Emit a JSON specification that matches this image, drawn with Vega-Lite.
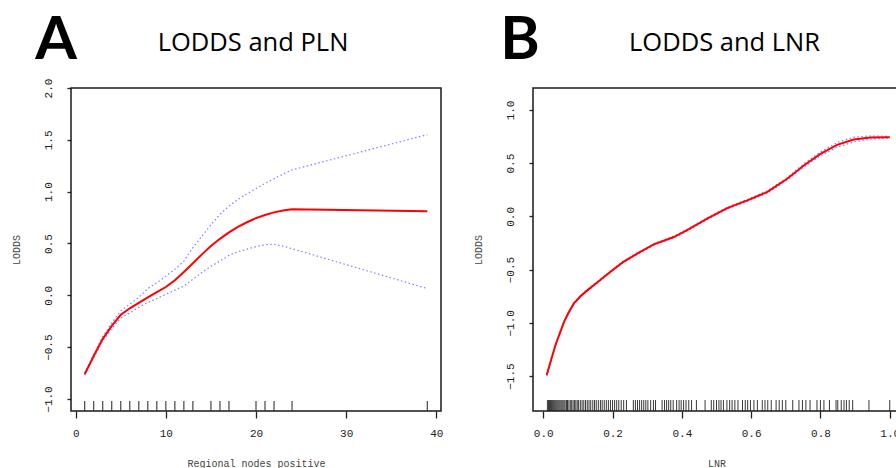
{
  "$schema": "https://vega.github.io/schema/vega-lite/v6.json",
  "background": "white",
  "padding": {"left": 10, "top": 10, "right": 0, "bottom": 0},
  "spacing": 28,
  "config": {
    "view": {"stroke": "#1a1a1a", "strokeWidth": 1.5},
    "axis": {
      "domain": false, "grid": false,
      "tickColor": "#222", "tickSize": 7, "tickWidth": 1.3,
      "labelFont": "Liberation Mono", "labelFontSize": 11, "labelColor": "#222",
      "titleFont": "Liberation Mono", "titleFontSize": 10, "titleFontWeight": "normal", "titleColor": "#444"
    },
    "axisY": {"labelAngle": -90, "labelPadding": 14, "titlePadding": 21, "tickSize": 4},
    "axisX": {"labelPadding": 9, "titlePadding": 20},
    "title": {"font": "Open Sans", "color": "#000"}
  },
  "datasets": {
    "fitA": [
      {"x": 1, "fit": -0.76, "lower": -0.77, "upper": -0.75},
      {"x": 2, "fit": -0.585, "lower": -0.6, "upper": -0.57},
      {"x": 3, "fit": -0.42, "lower": -0.44, "upper": -0.4},
      {"x": 4, "fit": -0.295, "lower": -0.32, "upper": -0.265},
      {"x": 5, "fit": -0.188, "lower": -0.22, "upper": -0.15},
      {"x": 6, "fit": -0.125, "lower": -0.17, "upper": -0.085},
      {"x": 7, "fit": -0.072, "lower": -0.115, "upper": -0.02},
      {"x": 8, "fit": -0.02, "lower": -0.07, "upper": 0.065},
      {"x": 9, "fit": 0.03, "lower": -0.03, "upper": 0.12},
      {"x": 10, "fit": 0.08, "lower": 0.01, "upper": 0.185},
      {"x": 11, "fit": 0.145, "lower": 0.05, "upper": 0.25},
      {"x": 12, "fit": 0.225, "lower": 0.09, "upper": 0.33},
      {"x": 13, "fit": 0.31, "lower": 0.155, "upper": 0.46},
      {"x": 14, "fit": 0.395, "lower": 0.22, "upper": 0.57},
      {"x": 15, "fit": 0.475, "lower": 0.28, "upper": 0.68},
      {"x": 16, "fit": 0.545, "lower": 0.33, "upper": 0.78},
      {"x": 17, "fit": 0.607, "lower": 0.385, "upper": 0.86},
      {"x": 18, "fit": 0.66, "lower": 0.42, "upper": 0.925},
      {"x": 19, "fit": 0.705, "lower": 0.445, "upper": 0.98},
      {"x": 20, "fit": 0.745, "lower": 0.47, "upper": 1.03},
      {"x": 21, "fit": 0.775, "lower": 0.487, "upper": 1.08},
      {"x": 22, "fit": 0.8, "lower": 0.493, "upper": 1.125},
      {"x": 23, "fit": 0.818, "lower": 0.475, "upper": 1.17},
      {"x": 24, "fit": 0.83, "lower": 0.45, "upper": 1.21},
      {"x": 39, "fit": 0.81, "lower": 0.065, "upper": 1.55}
    ],
    "rugA": [
      {"x": 1}, {"x": 2}, {"x": 3}, {"x": 4}, {"x": 5}, {"x": 6}, {"x": 7}, {"x": 8}, {"x": 9}, {"x": 10},
      {"x": 11}, {"x": 12}, {"x": 13}, {"x": 15}, {"x": 16}, {"x": 17}, {"x": 20}, {"x": 21}, {"x": 22}, {"x": 24}, {"x": 39}
    ],
    "fitB": [
      {"x": 0.01, "fit": -1.49, "lower": -1.5, "upper": -1.48},
      {"x": 0.035, "fit": -1.21, "lower": -1.218, "upper": -1.202},
      {"x": 0.06, "fit": -0.99, "lower": -0.998, "upper": -0.982},
      {"x": 0.074, "fit": -0.898, "lower": -0.905, "upper": -0.891},
      {"x": 0.088, "fit": -0.82, "lower": -0.827, "upper": -0.813},
      {"x": 0.108, "fit": -0.748, "lower": -0.755, "upper": -0.741},
      {"x": 0.127, "fit": -0.695, "lower": -0.702, "upper": -0.688},
      {"x": 0.16, "fit": -0.61, "lower": -0.617, "upper": -0.603},
      {"x": 0.194, "fit": -0.52, "lower": -0.527, "upper": -0.513},
      {"x": 0.23, "fit": -0.43, "lower": -0.437, "upper": -0.423},
      {"x": 0.271, "fit": -0.35, "lower": -0.357, "upper": -0.343},
      {"x": 0.319, "fit": -0.263, "lower": -0.27, "upper": -0.256},
      {"x": 0.377, "fit": -0.194, "lower": -0.201, "upper": -0.187},
      {"x": 0.415, "fit": -0.13, "lower": -0.137, "upper": -0.123},
      {"x": 0.473, "fit": -0.022, "lower": -0.03, "upper": -0.014},
      {"x": 0.531, "fit": 0.078, "lower": 0.07, "upper": 0.086},
      {"x": 0.589, "fit": 0.15, "lower": 0.141, "upper": 0.159},
      {"x": 0.646, "fit": 0.228, "lower": 0.217, "upper": 0.239},
      {"x": 0.704, "fit": 0.353, "lower": 0.341, "upper": 0.365},
      {"x": 0.752, "fit": 0.478, "lower": 0.463, "upper": 0.493},
      {"x": 0.8, "fit": 0.587, "lower": 0.569, "upper": 0.605},
      {"x": 0.848, "fit": 0.672, "lower": 0.65, "upper": 0.694},
      {"x": 0.896, "fit": 0.722, "lower": 0.7, "upper": 0.744},
      {"x": 0.944, "fit": 0.741, "lower": 0.726, "upper": 0.756},
      {"x": 1.0, "fit": 0.744, "lower": 0.737, "upper": 0.751}
    ],
    "rugB": [
      {"x": 0.012}, {"x": 0.015}, {"x": 0.018}, {"x": 0.021}, {"x": 0.024}, {"x": 0.027}, {"x": 0.03}, {"x": 0.033}, {"x": 0.036}, {"x": 0.039},
      {"x": 0.042}, {"x": 0.045}, {"x": 0.048}, {"x": 0.051}, {"x": 0.054}, {"x": 0.057}, {"x": 0.06}, {"x": 0.063}, {"x": 0.067}, {"x": 0.07},
      {"x": 0.074}, {"x": 0.078}, {"x": 0.082}, {"x": 0.086}, {"x": 0.09}, {"x": 0.094}, {"x": 0.098}, {"x": 0.102}, {"x": 0.107}, {"x": 0.112},
      {"x": 0.117}, {"x": 0.122}, {"x": 0.127}, {"x": 0.132}, {"x": 0.137}, {"x": 0.143}, {"x": 0.148}, {"x": 0.153}, {"x": 0.159}, {"x": 0.165},
      {"x": 0.17}, {"x": 0.176}, {"x": 0.182}, {"x": 0.188}, {"x": 0.194}, {"x": 0.2}, {"x": 0.206}, {"x": 0.212}, {"x": 0.218}, {"x": 0.225},
      {"x": 0.232}, {"x": 0.24}, {"x": 0.26}, {"x": 0.266}, {"x": 0.272}, {"x": 0.278}, {"x": 0.284}, {"x": 0.29}, {"x": 0.296}, {"x": 0.302},
      {"x": 0.31}, {"x": 0.318}, {"x": 0.324}, {"x": 0.343}, {"x": 0.35}, {"x": 0.356}, {"x": 0.362}, {"x": 0.368}, {"x": 0.375}, {"x": 0.385},
      {"x": 0.392}, {"x": 0.398}, {"x": 0.405}, {"x": 0.412}, {"x": 0.42}, {"x": 0.428}, {"x": 0.442}, {"x": 0.467}, {"x": 0.485}, {"x": 0.492},
      {"x": 0.5}, {"x": 0.507}, {"x": 0.513}, {"x": 0.52}, {"x": 0.53}, {"x": 0.538}, {"x": 0.545}, {"x": 0.553}, {"x": 0.562}, {"x": 0.575},
      {"x": 0.583}, {"x": 0.59}, {"x": 0.598}, {"x": 0.608}, {"x": 0.618}, {"x": 0.632}, {"x": 0.64}, {"x": 0.648}, {"x": 0.658}, {"x": 0.672},
      {"x": 0.681}, {"x": 0.69}, {"x": 0.7}, {"x": 0.72}, {"x": 0.738}, {"x": 0.748}, {"x": 0.758}, {"x": 0.77}, {"x": 0.79}, {"x": 0.8},
      {"x": 0.81}, {"x": 0.826}, {"x": 0.845}, {"x": 0.85}, {"x": 0.86}, {"x": 0.868}, {"x": 0.875}, {"x": 0.883}, {"x": 0.893}, {"x": 0.94},
      {"x": 1.0}
    ]
  },
  "hconcat": [
    {
      "title": {"text": "A", "anchor": "start", "fontSize": 60, "fontWeight": "bold", "font": "Lato", "dx": 25, "offset": -42},
      "vconcat": [
        {
          "title": {"text": "LODDS and PLN", "fontSize": 25.5, "fontWeight": "normal", "anchor": "middle", "offset": 22, "dx": -3},
          "width": 370,
          "height": 323,
          "layer": [
            {
              "data": {"name": "rugA"},
              "mark": {"type": "rule", "color": "#333", "strokeWidth": 1.1},
              "encoding": {
                "x": {"field": "x", "type": "quantitative", "scale": {"domain": [-0.52, 40.52], "nice": false, "zero": false}, "axis": {"title": "Regional nodes positive", "values": [0, 10, 20, 30, 40]}},
                "y": {"datum": -1.116, "type": "quantitative", "scale": {"domain": [-1.116, 2.0], "nice": false, "zero": false}, "axis": {"title": "LODDS", "values": [-1, -0.5, 0, 0.5, 1, 1.5, 2], "format": ".1f"}},
                "y2": {"datum": -1.02}
              }
            },
            {
              "data": {"name": "fitA"},
              "mark": {"type": "line", "color": "#7f7fff", "strokeWidth": 1.2, "strokeDash": [1.5, 2.5]},
              "encoding": {
                "x": {"field": "x", "type": "quantitative", "axis": {"title": "Regional nodes positive", "values": [0, 10, 20, 30, 40]}},
                "y": {"field": "upper", "type": "quantitative", "axis": {"title": "LODDS", "values": [-1, -0.5, 0, 0.5, 1, 1.5, 2], "format": ".1f"}}
              }
            },
            {
              "data": {"name": "fitA"},
              "mark": {"type": "line", "color": "#7f7fff", "strokeWidth": 1.2, "strokeDash": [1.5, 2.5]},
              "encoding": {
                "x": {"field": "x", "type": "quantitative", "axis": {"title": "Regional nodes positive", "values": [0, 10, 20, 30, 40]}},
                "y": {"field": "lower", "type": "quantitative", "axis": {"title": "LODDS", "values": [-1, -0.5, 0, 0.5, 1, 1.5, 2], "format": ".1f"}}
              }
            },
            {
              "data": {"name": "fitA"},
              "mark": {"type": "line", "color": "#ff0000", "strokeWidth": 2},
              "encoding": {
                "x": {"field": "x", "type": "quantitative", "axis": {"title": "Regional nodes positive", "values": [0, 10, 20, 30, 40]}},
                "y": {"field": "fit", "type": "quantitative", "axis": {"title": "LODDS", "values": [-1, -0.5, 0, 0.5, 1, 1.5, 2], "format": ".1f"}}
              }
            }
          ]
        }
      ]
    },
    {
      "title": {"text": "B", "anchor": "start", "fontSize": 60, "fontWeight": "bold", "font": "Lato", "dx": 28, "offset": -42},
      "vconcat": [
        {
          "title": {"text": "LODDS and LNR", "fontSize": 25.5, "fontWeight": "normal", "anchor": "middle", "offset": 32, "dx": 8},
          "width": 367,
          "height": 323,
          "layer": [
            {
              "data": {"name": "rugB"},
              "mark": {"type": "rule", "color": "#222", "strokeWidth": 0.9},
              "encoding": {
                "x": {"field": "x", "type": "quantitative", "scale": {"domain": [-0.0296, 1.0296], "nice": false, "zero": false}, "axis": {"title": "LNR", "values": [0, 0.2, 0.4, 0.6, 0.8, 1.0], "format": ".1f"}},
                "y": {"datum": -1.828, "type": "quantitative", "scale": {"domain": [-1.828, 1.206], "nice": false, "zero": false}, "axis": {"title": "LODDS", "values": [-1.5, -1, -0.5, 0, 0.5, 1], "format": ".1f"}},
                "y2": {"datum": -1.725}
              }
            },
            {
              "data": {"name": "fitB"},
              "mark": {"type": "line", "color": "#7f7fff", "strokeWidth": 1.2, "strokeDash": [1.5, 2.5]},
              "encoding": {
                "x": {"field": "x", "type": "quantitative", "axis": {"title": "LNR", "values": [0, 0.2, 0.4, 0.6, 0.8, 1.0], "format": ".1f"}},
                "y": {"field": "upper", "type": "quantitative", "axis": {"title": "LODDS", "values": [-1.5, -1, -0.5, 0, 0.5, 1], "format": ".1f"}}
              }
            },
            {
              "data": {"name": "fitB"},
              "mark": {"type": "line", "color": "#7f7fff", "strokeWidth": 1.2, "strokeDash": [1.5, 2.5]},
              "encoding": {
                "x": {"field": "x", "type": "quantitative", "axis": {"title": "LNR", "values": [0, 0.2, 0.4, 0.6, 0.8, 1.0], "format": ".1f"}},
                "y": {"field": "lower", "type": "quantitative", "axis": {"title": "LODDS", "values": [-1.5, -1, -0.5, 0, 0.5, 1], "format": ".1f"}}
              }
            },
            {
              "data": {"name": "fitB"},
              "mark": {"type": "line", "color": "#ff0000", "strokeWidth": 2},
              "encoding": {
                "x": {"field": "x", "type": "quantitative", "axis": {"title": "LNR", "values": [0, 0.2, 0.4, 0.6, 0.8, 1.0], "format": ".1f"}},
                "y": {"field": "fit", "type": "quantitative", "axis": {"title": "LODDS", "values": [-1.5, -1, -0.5, 0, 0.5, 1], "format": ".1f"}}
              }
            }
          ]
        }
      ]
    }
  ]
}
